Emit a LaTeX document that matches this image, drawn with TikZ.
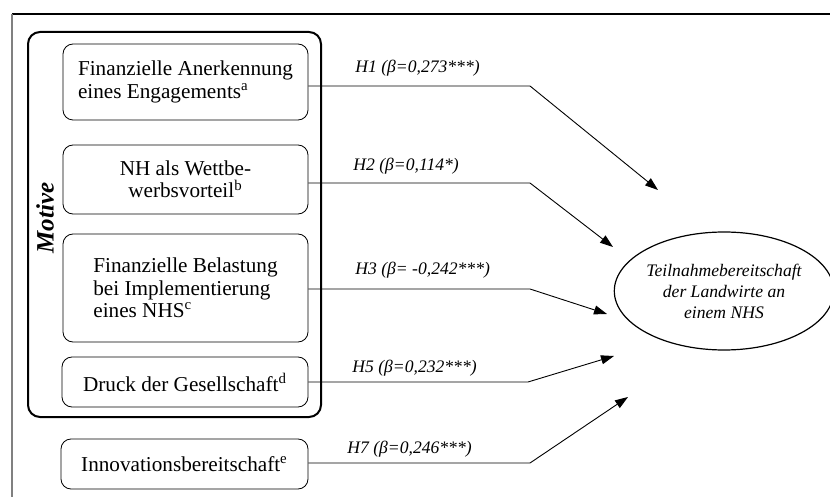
\documentclass[tikz,border=0pt]{standalone}
\usepackage{fontspec}
\setmainfont{Liberation Serif}
\usetikzlibrary{arrows.meta, shapes.geometric}

\begin{document}
\begin{tikzpicture}[x=0.5pt, y=-0.5pt,
    motivbox/.style={draw, line width=1pt, rounded corners=6pt,
        minimum width=146.5pt, minimum height=192.5pt},
    itembox/.style={draw, line width=0.4pt, rounded corners=5pt,
        minimum width=122.5pt, inner sep=0pt,
        font=\fontsize{10.6}{11.2}\selectfont},
    hlabel/.style={anchor=base west, inner sep=0pt,
        font=\fontsize{8.8}{10}\selectfont\itshape},
    linkline/.style={draw, line width=0.45pt,
        -{Triangle[length=6.5pt,width=4.5pt]}}]

    \useasboundingbox (0,0) rectangle (830,497);

    % frame
    \draw [line width=0.6pt] (12,14) -- (830,14);
    \draw [gray, line width=0.6pt] (12,14) -- (12,497);

    % motives
    \node [motivbox] (motive) at (174.5,224.5) {};
    \node [rotate=90, inner sep=0pt,
        font=\fontsize{12.5}{14}\selectfont\bfseries\itshape]
        (motlabel) at (45,218) {Motive};

    \node [itembox, minimum height=38pt, align=left] (anerk) at (185.5,82)
        {Finanzielle Anerkennung\\eines Engagements\textsuperscript{a}};
    \node [itembox, minimum height=34.5pt, align=center] (wettb) at (185.5,179.5)
        {NH als Wettbe-\\werbsvorteil\textsuperscript{b}};
    \node [itembox, minimum height=54pt, align=left] (belast) at (185.5,288)
        {Finanzielle Belastung\\bei Implementierung\\eines NHS\textsuperscript{c}};
    \node [itembox, minimum height=25pt, minimum width=123pt] (druck) at (185,382)
        {Druck der Gesellschaft\textsuperscript{d}};
    \node [itembox, minimum height=25pt, minimum width=123.5pt] (innov) at (184.5,464)
        {Innovationsbereitschaft\textsuperscript{e}};

    % outcome
    \node [ellipse, draw, line width=0.6pt, minimum width=95pt,
        minimum height=59pt, inner sep=0pt, align=center,
        font=\fontsize{8.8}{10.5}\selectfont\itshape]
        (teilnahme) at (724,291)
        {Teilnahmebereitschaft\\der Landwirte an\\einem NHS};

    % paths
    \coordinate (k1) at (530,86);
    \coordinate (t1) at (658,190);
    \coordinate (k2) at (530,183);
    \coordinate (t2) at (613,247);
    \coordinate (k3) at (530,289);
    \coordinate (t3) at (607,314);
    \coordinate (k4) at (528,382);
    \coordinate (t4) at (614,356);
    \coordinate (k5) at (530,463);
    \coordinate (t5) at (628,397);

    \draw [linkline] (anerk.east |- k1) -- (k1) -- (t1);
    \draw [linkline] (wettb.east |- k2) -- (k2) -- (t2);
    \draw [linkline] (belast.east |- k3) -- (k3) -- (t3);
    \draw [linkline] (druck.east |- k4) -- (k4) -- (t4);
    \draw [linkline] (innov.east |- k5) -- (k5) -- (t5);

    \node [hlabel] (h1) at (355,73) {H1 (β=0,273***)};
    \node [hlabel] (h2) at (353,171) {H2 (β=0,114*)};
    \node [hlabel] (h3) at (355,275) {H3 (β= -0,242***)};
    \node [hlabel] (h5) at (352,372) {H5 (β=0,232***)};
    \node [hlabel] (h7) at (347,453) {H7 (β=0,246***)};

\end{tikzpicture}
\end{document}
